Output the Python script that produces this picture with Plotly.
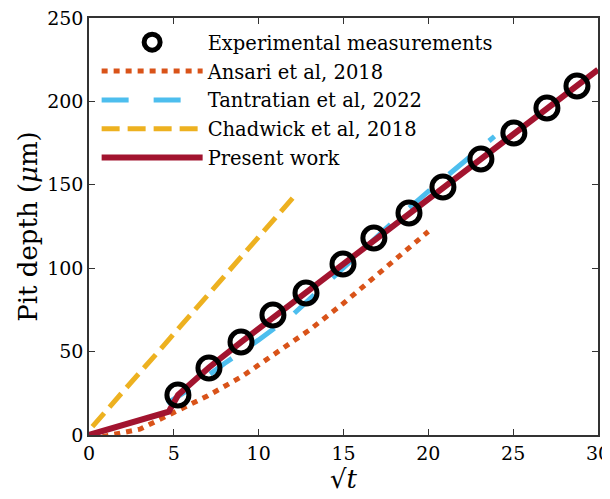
import plotly.graph_objects as go

# experimental measurements
exp_x = [5.24, 7.07, 8.96, 10.84, 12.79, 14.97, 16.79, 18.86, 20.86, 23.10, 25.04, 26.99, 28.76]
exp_y = [24.0, 40.2, 55.8, 71.9, 85.1, 102.5, 118.1, 133.1, 148.7, 165.5, 181.1, 196.0, 209.2]

# Ansari et al, 2018
ans_x = [0.8, 3, 5, 7, 9, 11, 13, 15, 17, 19, 20]
ans_y = [-1, 3.5, 13.5, 23.5, 35, 49, 63, 79, 96, 113, 122]

# Tantratian et al, 2022
tan_x = [4.6, 6, 8, 10, 12, 14, 16, 18, 20, 22, 23.9]
tan_y = [19, 28, 43, 57, 72, 91, 110, 128.5, 146, 162.5, 179]

# Chadwick et al, 2018
cha_x = [0.2, 1, 2, 4, 6, 8, 10, 12]
cha_y = [5, 14, 26, 49, 72, 95, 118, 142]

# present work
pw_x = [0, 4.7, 5.25, 7.07, 9, 11, 13, 15, 17, 19, 21, 23, 25, 27, 29, 30]
pw_y = [0, 14, 24, 40.5, 56, 71.5, 86.5, 103, 118.5, 133.5, 149, 164.5, 180.5, 196, 211, 219]

font = "DejaVu Serif"

fig = go.Figure()
fig.add_trace(go.Scatter(x=ans_x, y=ans_y, mode="lines", name="Ansari et al, 2018",
                         legendrank=2, legendgroup="b",
                         line=dict(color="#D95319", width=5, dash="6px,6px")))
fig.add_trace(go.Scatter(x=tan_x, y=tan_y, mode="lines", name="Tantratian et al, 2022",
                         legendrank=3, legendgroup="c",
                         line=dict(color="#4DBEEE", width=5, dash="27px,25px")))
fig.add_trace(go.Scatter(x=cha_x, y=cha_y, mode="lines", name="Chadwick et al, 2018",
                         legendrank=4, legendgroup="d",
                         line=dict(color="#EDB120", width=5, dash="18px,8px")))
fig.add_trace(go.Scatter(x=pw_x, y=pw_y, mode="lines", name="Present work",
                         legendrank=5, legendgroup="e",
                         line=dict(color="#A2142F", width=6)))
# markers drawn last so they sit on top of the lines
fig.add_trace(go.Scatter(x=exp_x, y=exp_y, mode="markers", name="Experimental measurements",
                         legendrank=1, legendgroup="a",
                         marker=dict(symbol="circle-open", size=22, color="black",
                                     line=dict(width=5, color="black"))))

# page body has an 8px margin, so the plot area is offset by 8px in the window
fig.update_layout(
    width=612, height=493,
    margin=dict(l=81, r=22, t=10, b=66),
    plot_bgcolor="white", paper_bgcolor="white",
    font=dict(family=font, size=19, color="black"),
    showlegend=True,
    legend=dict(x=0.015, y=0.988, xanchor="left", yanchor="top",
                bgcolor="rgba(0,0,0,0)", font=dict(size=19.5),
                itemwidth=101, tracegroupgap=0.5),
    xaxis=dict(range=[0, 30], tickvals=[0, 5, 10, 15, 20, 25, 30], automargin=False,
               ticklabeloverflow="allow",
               ticks="inside", ticklen=6, tickcolor="#333", showgrid=False, zeroline=False,
               showline=True, linecolor="#333", linewidth=1.5, mirror="ticks",
               title=dict(text="√<i>t</i>", standoff=2, font=dict(size=26))),
    yaxis=dict(range=[0, 250], tickvals=[0, 50, 100, 150, 200, 250], automargin=False,
               ticklabeloverflow="allow",
               ticks="inside", ticklen=6, tickcolor="#333", showgrid=False, zeroline=False,
               showline=True, linecolor="#333", linewidth=1.5, mirror="ticks",
               title=dict(text="Pit depth (<i>μ</i>m)", standoff=2, font=dict(size=26))),
)

fig.write_html("out.html")
